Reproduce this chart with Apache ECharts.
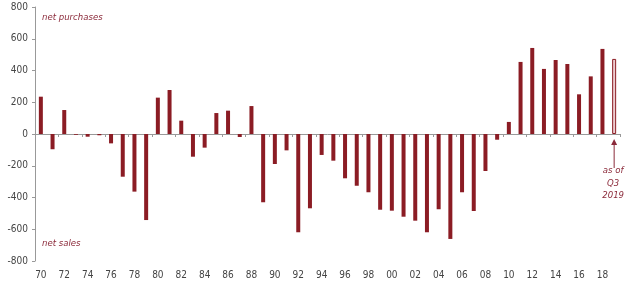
<!DOCTYPE html>
<html><head><meta charset="utf-8">
<script src="https://cdn.jsdelivr.net/npm/echarts@6/dist/echarts.min.js"></script>
<style>html,body{margin:0;padding:0;background:#fff}#c{width:640px;height:297px}</style>
</head><body><div id="c"></div>
<script>
const years = [];
for (let y = 1970; y <= 2019; y++) years.push(String(y));
const netFlows = [235, -96, 151, -5, -17, -8, -59, -269, -363, -542,
  229, 277, 84, -143, -86, 132, 147, -19, 176, -430,
  -189, -103, -619, -468, -132, -168, -279, -326, -367, -477,
  -483, -521, -546, -619, -474, -661, -367, -485, -233, -36,
  76, 454, 542, 410, 466, 441, 250, 363, 536, 473];
const partialYear = '2019';
const yTicks = { min: -800, max: 800, interval: 200 };
const labelTop = 'net purchases';
const labelBottom = 'net sales';
const noteLines = ['as of', 'Q3', '2019'];

const FONT = "'Liberation Sans Narrow', 'DejaVu Sans Condensed', 'Roboto Condensed', 'Roboto', sans-serif";
const RED = '#8b1c24';
const TXT = '#8b2a3a';

const chart = echarts.init(document.getElementById('c'));
const barData = netFlows.map((v, i) => years[i] === partialYear
  ? { value: v, itemStyle: { color: '#ecccd0', borderColor: RED, borderWidth: 1 } }
  : v);

chart.setOption({
  animation: false,
  grid: { left: 35, right: 20, top: 7, bottom: 36 },
  xAxis: [{
    type: 'category', data: years, position: 'bottom',
    axisLine: { onZero: true, lineStyle: { color: '#999', width: 1 } },
    axisTick: { show: true, interval: 1, length: 3, lineStyle: { color: '#999' } },
    axisLabel: { show: false }
  }, {
    type: 'category', data: years, position: 'bottom',
    axisLine: { show: false, onZero: false }, axisTick: { show: false },
    axisLabel: { interval: 1, fontFamily: FONT, fontSize: 10, color: '#444', margin: 9,
      formatter: v => v.slice(2) }
  }],
  yAxis: {
    type: 'value', min: yTicks.min, max: yTicks.max, interval: yTicks.interval,
    splitLine: { show: false },
    axisLine: { show: true, lineStyle: { color: '#999' } },
    axisTick: { show: true, length: 3, lineStyle: { color: '#999' } },
    axisLabel: { fontFamily: FONT, fontSize: 10, color: '#444', margin: 7 }
  },
  series: [{
    type: 'bar', xAxisIndex: 0, data: barData, barWidth: 4,
    itemStyle: { color: RED }
  }]
});

const px = chart.convertToPixel({ xAxisIndex: 0 }, partialYear);
const py0 = chart.convertToPixel({ yAxisIndex: 0 }, 0);
const txtStyle = (t, x, y, align) => ({
  type: 'text', x: x, y: y,
  style: { text: t, fontFamily: FONT, fontSize: 9.5, fontStyle: 'italic', fill: TXT,
    align: align || 'left', verticalAlign: 'middle' }
});
const g = [
  txtStyle(labelTop, 42, 18),
  txtStyle(labelBottom, 42, 244),
  { type: 'line', shape: { x1: px, y1: py0 + 34, x2: px, y2: py0 + 9 },
    style: { stroke: TXT, lineWidth: 1 } },
  { type: 'polygon', shape: { points: [[px, py0 + 5], [px - 3, py0 + 11], [px + 3, py0 + 11]] },
    style: { fill: TXT } }
];
noteLines.forEach((t, i) => g.push(txtStyle(t, px - 1, py0 + 37 + i * 12.5, 'center')));
chart.setOption({ graphic: g });
</script></body></html>
